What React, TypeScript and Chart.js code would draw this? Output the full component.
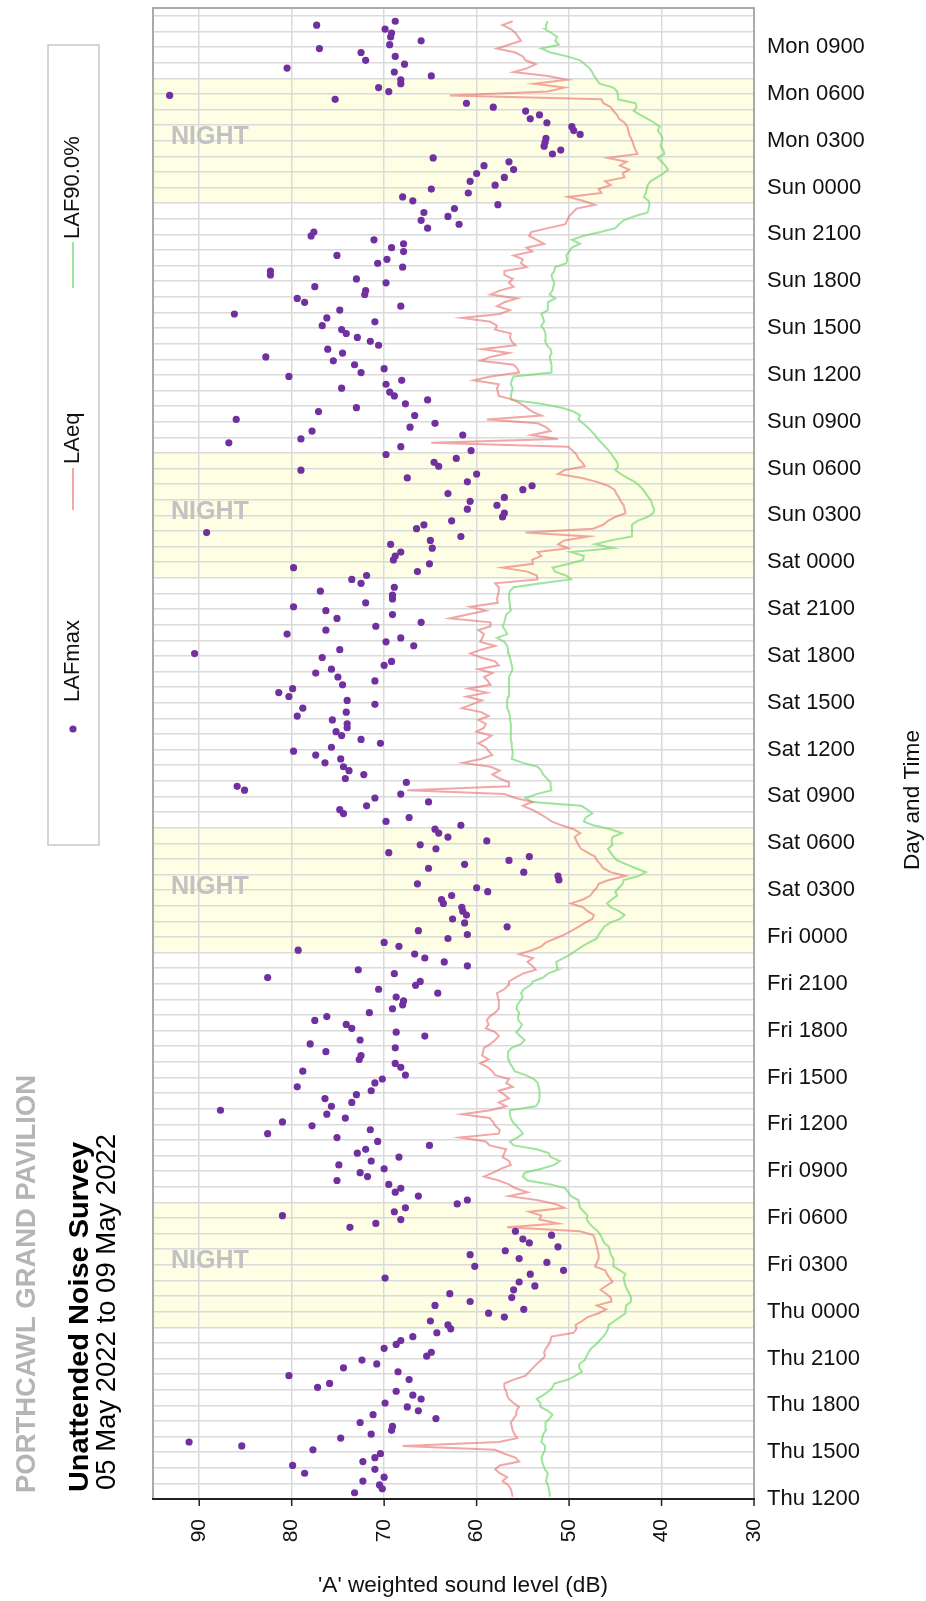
import React, { useEffect, useRef } from "react";
import { Chart, registerables } from "chart.js";

Chart.register(...registerables);

const FONT = "'Liberation Sans', Arial, Helvetica, sans-serif";

// Time axis: hours counted from Thu 12:00
const Y_MIN = 0;
const Y_MAX = 95.5;
const X_MIN = 30;
const X_MAX = 95;
const X_TICKS = [30, 40, 50, 60, 70, 80, 90];
const TIME_TICK_HOURS = [0, 3, 6, 9, 12, 15, 18, 21, 24, 27, 30, 33, 36, 39, 42, 45, 48, 51, 54, 57, 60, 63, 66, 69, 72, 75, 78, 81, 84, 87, 90, 93];
const TIME_LABELS = [
  "Thu 1200", "Thu 1500", "Thu 1800", "Thu 2100", "Thu 0000", "Fri 0300", "Fri 0600", "Fri 0900",
  "Fri 1200", "Fri 1500", "Fri 1800", "Fri 2100", "Fri 0000", "Sat 0300", "Sat 0600", "Sat 0900",
  "Sat 1200", "Sat 1500", "Sat 1800", "Sat 2100", "Sat 0000", "Sun 0300", "Sun 0600", "Sun 0900",
  "Sun 1200", "Sun 1500", "Sun 1800", "Sun 2100", "Sun 0000", "Mon 0300", "Mon 0600", "Mon 0900",
];
const NIGHT_BANDS = [[11, 19], [35, 43], [59, 67], [83, 91]];

// 15-minute samples, newest (Mon ~10:39) first
const LAST_SAMPLE_HOUR = 94.65;
const STEP_HOURS = 0.25;

const LAEQ_NEWEST_FIRST = [
  56.1, 57.2, 56.3, 55.8, 55.5, 55.2, 56.5, 57.8, 55.8, 55.0,
  54.7, 53.6, 54.5, 56.0, 52.3, 50.2, 53.8, 50.5, 52.3, 62.9,
  46.5, 46.3, 45.5, 45.2, 44.8, 44.6, 44.0, 43.7, 43.6, 43.5,
  43.3, 43.1, 43.0, 42.8, 42.6, 45.8, 43.8, 44.5, 43.5, 44.2,
  44.0, 46.1, 45.5, 46.8, 46.5, 50.1, 48.5, 47.2, 49.2, 49.6,
  50.0, 50.2, 50.4, 52.3, 54.1, 54.3, 53.5, 52.7, 54.6, 54.0,
  56.0, 55.0, 55.2, 54.6, 57.0, 57.0, 56.1, 56.5, 56.0, 57.5,
  58.5, 55.6, 57.0, 57.8, 56.4, 57.5, 61.6, 58.5, 57.8, 58.0,
  56.3, 56.4, 56.2, 55.8, 59.4, 56.5, 58.5, 59.6, 56.0, 55.6,
  55.4, 58.5, 60.3, 57.6, 57.8, 57.7, 57.6, 56.0, 55.2, 54.6,
  54.0, 53.0, 58.9, 53.4, 52.5, 52.0, 54.1, 51.2, 64.9, 50.1,
  49.6, 49.2, 49.0, 48.6, 48.3, 50.5, 51.2, 48.6, 47.0, 45.8,
  45.1, 44.9, 44.6, 44.4, 44.1, 44.0, 43.9, 45.0, 45.8, 46.3,
  47.4, 54.7, 47.9, 50.5, 51.2, 50.1, 53.4, 53.0, 54.0, 53.9,
  57.2, 54.5, 53.5, 53.4, 58.0, 57.6, 57.6, 57.7, 57.8, 57.7,
  60.7, 59.0, 61.0, 62.9, 58.5, 58.5, 59.8, 59.2, 59.4, 59.6,
  58.0, 59.5, 60.7, 59.5, 58.0, 57.6, 59.8, 58.3, 59.2, 58.8,
  58.5, 60.9, 58.9, 61.1, 59.4, 60.5, 61.6, 59.5, 58.7, 59.8,
  59.0, 59.2, 60.0, 58.4, 59.0, 59.8, 59.0, 58.7, 58.3, 59.5,
  61.5, 58.5, 57.5, 58.3, 57.5, 56.5, 56.5, 67.5, 57.0, 55.8,
  54.0, 55.0, 54.0, 53.2, 52.5, 51.9, 50.8, 49.5, 48.8, 49.4,
  49.2, 49.0, 48.7, 48.0, 47.2, 47.0, 46.6, 46.3, 45.5, 43.9,
  45.7, 46.8, 47.0, 47.4, 47.7, 48.5, 49.8, 48.5, 48.0, 47.3,
  47.5, 48.3, 49.0, 49.7, 50.5, 51.5, 52.5, 53.0, 54.0, 55.4,
  53.9, 54.5, 54.0, 53.6, 55.0, 55.8, 56.5, 56.6, 57.0, 57.8,
  57.7, 57.6, 57.6, 57.6, 58.0, 58.6, 58.9, 58.7, 59.0, 58.0,
  57.6, 58.0, 58.5, 59.2, 59.3, 59.4, 58.7, 59.6, 58.8, 58.3,
  58.0, 56.5, 56.8, 56.1, 57.6, 57.0, 56.5, 57.6, 56.8, 58.5,
  61.6, 58.6, 58.2, 58.0, 57.5, 57.6, 61.8, 59.0, 58.6, 56.8,
  57.0, 57.2, 56.5, 56.3, 57.4, 58.2, 59.2, 57.6, 56.5, 55.8,
  54.5, 56.5, 53.5, 51.5, 50.5, 54.3, 53.0, 53.2, 51.2, 56.7,
  48.8, 47.4, 47.2, 47.1, 47.0, 46.9, 46.8, 46.8, 47.0, 47.2,
  46.1, 45.9, 45.6, 45.3, 46.0, 46.6, 46.0, 45.5, 45.4, 47.0,
  46.0, 46.8, 48.0, 48.6, 49.3, 49.2, 49.5, 51.9, 52.0, 52.2,
  52.5, 52.7, 52.6, 53.0, 53.5, 53.9, 54.3, 54.7, 56.0, 57.0,
  57.0, 56.8, 56.7, 56.5, 56.0, 55.4, 55.7, 55.7, 56.0, 56.3,
  56.2, 56.1, 55.9, 55.6, 57.6, 68.0, 58.0, 57.0, 55.8, 55.4,
  57.5, 58.0, 57.5, 56.7, 57.2, 56.6, 56.3, 56.2, 56.1,
];

const LAF90_NEWEST_FIRST = [
  52.3, 52.5, 52.6, 51.9, 51.3, 51.5, 51.1, 53.0, 52.0, 50.2,
  48.8, 48.3, 47.8, 47.5, 47.3, 47.0, 46.7, 45.2, 44.8, 44.7,
  44.7, 42.8, 42.7, 43.0, 42.3, 41.5, 40.8, 40.2, 40.4, 40.1,
  39.9, 40.0, 40.1, 39.8, 39.7, 40.4, 40.0, 39.6, 39.3, 39.8,
  40.5, 41.2, 41.5, 41.6, 41.7, 41.9, 41.4, 41.3, 41.4, 41.5,
  43.0, 44.1, 44.6, 45.0, 46.6, 48.5, 49.7, 48.8, 49.7, 50.0,
  50.3, 50.2, 50.3, 51.5, 51.6, 51.9, 51.8, 51.6, 51.7, 51.8,
  52.1, 51.5, 52.3, 52.3, 52.3, 53.0, 52.8, 52.7, 53.0, 52.7,
  52.5, 52.6, 52.6, 52.4, 52.0, 51.9, 52.1, 52.0, 51.9, 51.9,
  51.9, 56.0, 56.2, 56.3, 56.1, 56.2, 56.3, 56.2, 53.0, 50.8,
  49.5, 48.8, 49.0, 48.5, 48.0, 47.6, 47.2, 46.9, 46.5, 46.1,
  45.7, 45.4, 45.1, 44.8, 44.7, 45.0, 44.4, 43.7, 42.9, 42.4,
  42.0, 41.7, 41.4, 41.1, 41.0, 40.8, 40.9, 41.5, 42.6, 43.2,
  43.2, 43.2, 43.2, 45.5, 47.2, 45.2, 49.8, 48.4, 48.5, 50.0,
  51.8, 51.5, 50.3, 49.8, 53.0, 56.0, 56.4, 56.5, 56.5, 56.4,
  56.4, 56.3, 56.8, 56.9, 57.0, 57.2, 56.9, 56.7, 57.8, 57.0,
  56.7, 56.6, 56.5, 56.4, 56.3, 56.2, 56.1, 56.3, 56.5, 56.5,
  56.5, 56.5, 56.5, 56.6, 56.7, 56.7, 56.7, 56.5, 56.4, 56.4,
  56.3, 56.3, 56.3, 56.3, 56.3, 56.2, 56.2, 56.1, 56.1, 56.2,
  55.0, 53.4, 53.0, 52.8, 52.4, 52.0, 52.0, 51.9, 53.5, 54.7,
  54.0, 48.7, 48.0, 47.5, 48.2, 48.4, 47.4, 45.5, 44.3, 45.3,
  45.4, 45.3, 45.8, 45.5, 45.2, 44.8, 43.8, 42.8, 41.7, 42.5,
  44.1, 44.2, 44.6, 45.0, 44.8, 45.4, 45.9, 45.5, 44.6, 44.0,
  44.5, 45.6, 46.2, 46.5, 46.8, 47.0, 47.8, 48.6, 49.2, 49.8,
  50.6, 51.4, 51.3, 51.2, 52.3, 52.8, 53.9, 54.2, 54.9, 55.2,
  55.0, 55.3, 55.6, 55.7, 55.4, 55.5, 55.5, 55.1, 55.3, 55.7,
  55.3, 54.8, 55.2, 56.2, 56.6, 56.6, 56.5, 56.4, 56.1, 55.9,
  54.7, 53.8, 53.4, 53.3, 53.2, 53.2, 53.2, 53.3, 53.6, 56.4,
  56.4, 56.3, 56.1, 55.7, 55.3, 55.0, 55.6, 56.4, 56.0, 53.5,
  52.2, 52.0, 51.0, 51.6, 53.0, 54.8, 55.0, 54.5, 52.0, 50.4,
  50.1, 49.8, 49.0, 48.9, 48.8, 48.4, 48.0, 48.1, 47.8, 47.4,
  46.9, 46.6, 46.4, 46.2, 45.7, 45.6, 45.5, 45.2, 45.2, 45.2,
  44.5, 43.9, 44.1, 44.0, 43.9, 43.7, 43.5, 43.3, 43.3, 43.8,
  43.9, 43.9, 44.5, 45.1, 45.7, 45.8, 46.0, 46.3, 46.7, 47.1,
  47.6, 47.9, 48.1, 48.3, 48.9, 48.9, 48.6, 49.3, 50.1, 51.6,
  51.8, 52.2, 52.8, 53.5, 53.1, 53.1, 52.3, 51.8, 52.1, 52.6,
  52.5, 52.5, 52.8, 52.9, 53.0, 52.6, 52.6, 52.8, 53.0, 52.9,
  52.8, 52.6, 52.3, 52.4, 52.5, 52.3, 52.2, 52.1, 52.1,
];

const LAFMAX_NEWEST_FIRST = [
  68.8, 77.3, 69.9, 69.2, 69.3, 66.0, 69.4, 77.0, 72.5, 68.8,
  72.0, 67.8, 80.5, 68.9, 64.9, 68.2, 68.2, 70.6, 69.5, 93.2,
  75.3, 61.1, 58.2, 54.7, 53.2, 54.2, 52.4, 49.7, 49.5, 48.8,
  52.5, 52.6, 52.7, 50.9, 51.8, 64.7, 56.5, 59.2, 56.0, 60.0,
  57.0, 60.7, 58.0, 64.9, 60.9, 68.0, 66.9, 57.7, 62.4, 65.7,
  63.1, 66.0, 61.9, 65.3, 77.6, 77.9, 71.1, 67.9, 69.2, 67.9,
  75.1, 69.7, 70.7, 68.0, 82.3, 82.3, 73.0, 69.8, 77.5, 72.0,
  72.1, 79.4, 78.6, 68.2, 74.8, 86.2, 76.2, 71.0, 76.7, 74.6,
  74.1, 72.9, 71.5, 70.6, 76.1, 74.5, 82.8, 75.5, 73.2, 70.0,
  72.5, 80.3, 68.1, 69.8, 74.6, 69.4, 68.9, 65.3, 67.7, 73.0,
  77.1, 66.7, 86.0, 64.5, 67.2, 77.8, 61.5, 79.0, 86.8, 68.2,
  60.6, 69.8, 62.2, 64.6, 64.1, 79.0, 60.0, 67.5, 61.0, 54.0,
  55.0, 63.1, 57.0, 60.7, 57.8, 61.0, 57.0, 57.2, 62.7, 65.7,
  66.5, 89.2, 61.7, 65.0, 69.3, 64.8, 68.2, 68.8, 69.0, 65.1,
  79.8, 66.4, 71.9, 73.5, 72.5, 68.9, 76.9, 69.1, 69.1, 72.0,
  79.8, 76.3, 69.1, 75.1, 66.0, 70.9, 76.3, 80.5, 68.2, 69.8,
  66.8, 74.8, 90.5, 76.7, 69.2, 70.0, 75.7, 77.4, 75.0, 71.0,
  74.5, 79.9, 81.4, 80.3, 74.0, 71.0, 78.8, 74.1, 79.4, 75.6,
  74.0, 74.0, 75.2, 74.6, 72.5, 70.4, 75.7, 79.8, 77.4, 74.7,
  76.4, 74.4, 73.8, 72.2, 74.2, 67.6, 85.9, 85.1, 68.2, 71.0,
  65.2, 71.9, 74.8, 74.4, 67.3, 69.8, 61.7, 64.5, 64.1, 63.1,
  58.9, 66.1, 64.4, 69.5, 54.3, 56.5, 61.3, 65.2, 54.9, 51.2,
  51.1, 66.4, 60.0, 58.8, 62.7, 63.8, 63.6, 61.6, 61.5, 61.1,
  62.6, 61.3, 56.7, 66.3, 61.0, 63.1, 70.0, 68.4, 79.3, 66.7,
  65.6, 63.5, 61.0, 72.8, 68.9, 82.6, 66.1, 66.6, 70.6, 64.2,
  68.7, 67.9, 68.0, 69.1, 71.6, 76.2, 77.5, 74.1, 73.5, 68.7,
  65.6, 72.6, 78.0, 68.8, 76.3, 72.5, 72.7, 68.8, 68.2, 78.8,
  67.7, 70.2, 71.0, 79.4, 71.4, 73.0, 76.4, 73.5, 75.7, 87.7,
  76.2, 74.2, 81.0, 77.8, 71.5, 82.6, 75.1, 70.7, 65.1, 72.0,
  72.9, 68.4, 71.4, 74.9, 70.0, 72.6, 71.8, 75.1, 69.5, 68.2,
  68.8, 66.3, 61.0, 62.1, 67.7, 68.9, 81.0, 68.2, 70.9, 73.7,
  55.8, 51.9, 55.0, 54.3, 51.2, 56.9, 60.7, 55.4, 52.4, 60.2,
  50.6, 54.2, 69.9, 55.4, 53.7, 56.0, 62.9, 56.2, 60.7, 64.5,
  54.9, 58.7, 57.0, 65.0, 63.1, 62.8, 64.3, 66.9, 68.2, 68.7,
  70.0, 64.9, 65.4, 72.4, 70.8, 74.4, 68.5, 80.3, 67.3, 75.9,
  77.2, 68.7, 66.9, 66.0, 69.9, 67.5, 66.3, 71.2, 64.4, 72.6,
  69.1, 69.2, 71.4, 74.7, 91.1, 85.4, 77.7, 70.4, 71.0, 72.3,
  79.9, 71.0, 78.6, 70.0, 72.3, 70.5, 70.2, 73.2,
];

const SERIES_NAMES = ["LAFmax", "LAeq", "LAF90.0%"];
const TITLE_SITE = "PORTHCAWL GRAND PAVILION";
const TITLE_MAIN = "Unattended Noise Survey";
const TITLE_DATES = "05 May 2022 to 09 May 2022";
const X_TITLE = "'A' weighted sound level (dB)";
const Y_TITLE = "Day and Time";
const NIGHT_LABEL = "NIGHT";

const COLOR_MAX = "#7030a0";
const COLOR_EQ = "rgba(236,112,112,0.62)";
const COLOR_90 = "rgba(110,215,110,0.68)";

function toPoints(values: number[]) {
  return values
    .map((v, j) => ({ x: v, y: LAST_SAMPLE_HOUR - STEP_HOURS * j }))
    .reverse();
}

function drawText(
  ctx: CanvasRenderingContext2D,
  text: string,
  x: number,
  y: number,
  o: { font: string; color: string; align: CanvasTextAlign; baseline: CanvasTextBaseline; rotate?: boolean; width?: number }
) {
  ctx.save();
  ctx.font = o.font;
  ctx.fillStyle = o.color;
  ctx.textAlign = o.align;
  ctx.textBaseline = o.baseline;
  ctx.translate(x, y);
  if (o.rotate) ctx.rotate(-Math.PI / 2);
  if (o.width) {
    const w = ctx.measureText(text).width;
    if (w > 0) ctx.scale(o.width / w, 1);
  }
  ctx.fillText(text, 0, 0);
  ctx.restore();
}

const bandsPlugin = {
  id: "nightBands",
  beforeDraw(chart: any) {
    const { ctx, chartArea, scales } = chart;
    const y = scales.y;
    ctx.save();
    ctx.fillStyle = "#fefee4";
    NIGHT_BANDS.forEach(([a, b]) => {
      const y1 = y.getPixelForValue(b);
      const y2 = y.getPixelForValue(a);
      ctx.fillRect(chartArea.left, y1, chartArea.right - chartArea.left, y2 - y1);
    });
    ctx.restore();
  },
  beforeDatasetsDraw(chart: any) {
    const { ctx, chartArea, scales } = chart;
    const y = scales.y;
    NIGHT_BANDS.forEach(([a, b]) => {
      const yc = (y.getPixelForValue(a) + y.getPixelForValue(b)) / 2 - 3.5;
      drawText(ctx, NIGHT_LABEL, chartArea.left + 18, yc, {
        font: `bold 25px ${FONT}`, color: "#c2c2c2", align: "left", baseline: "middle",
      });
    });
  },
};

const decorPlugin = {
  id: "decor",
  afterDraw(chart: any) {
    const { ctx, chartArea, scales } = chart;
    const { left, right, top, bottom } = chartArea;
    const xs = scales.x;
    const ys = scales.y;

    // frame
    ctx.save();
    ctx.strokeStyle = "#aaaaaa";
    ctx.lineWidth = 2;
    ctx.beginPath();
    ctx.moveTo(left, bottom);
    ctx.lineTo(left, top);
    ctx.lineTo(right, top);
    ctx.lineTo(right, bottom);
    ctx.stroke();
    ctx.strokeStyle = "#222";
    ctx.beginPath();
    ctx.moveTo(left - 1, bottom);
    ctx.lineTo(right + 1, bottom);
    ctx.stroke();
    // x tick marks
    ctx.lineWidth = 1.5;
    X_TICKS.forEach((v) => {
      const px = xs.getPixelForValue(v);
      ctx.beginPath();
      ctx.moveTo(px, bottom);
      ctx.lineTo(px, bottom + 7);
      ctx.stroke();
    });
    ctx.restore();

    // x tick labels (rotated)
    X_TICKS.forEach((v) => {
      drawText(ctx, String(v), xs.getPixelForValue(v), bottom + 20, {
        font: `21px ${FONT}`, color: "#111", align: "right", baseline: "middle", rotate: true,
      });
    });
    // y tick labels
    TIME_TICK_HOURS.forEach((h, i) => {
      drawText(ctx, TIME_LABELS[i], right + 13, ys.getPixelForValue(h), {
        font: `22px ${FONT}`, color: "#111", align: "left", baseline: "middle",
      });
    });
    // axis titles
    drawText(ctx, X_TITLE, 463, 1586, {
      font: `22px ${FONT}`, color: "#111", align: "center", baseline: "middle", width: 290,
    });
    drawText(ctx, Y_TITLE, 913, 800, {
      font: `22px ${FONT}`, color: "#111", align: "center", baseline: "middle", rotate: true, width: 140,
    });

    // titles (rotated, start at bottom; baseline on the right side)
    drawText(ctx, TITLE_SITE, 35, 1493, {
      font: `bold 28px ${FONT}`, color: "#b5b5b5", align: "left", baseline: "alphabetic", rotate: true, width: 418,
    });
    drawText(ctx, TITLE_MAIN, 88, 1492, {
      font: `bold 28px ${FONT}`, color: "#000", align: "left", baseline: "alphabetic", rotate: true, width: 350,
    });
    drawText(ctx, TITLE_DATES, 115, 1490, {
      font: `27px ${FONT}`, color: "#000", align: "left", baseline: "alphabetic", rotate: true, width: 356,
    });

    // legend box
    ctx.save();
    ctx.strokeStyle = "#c8c8c8";
    ctx.lineWidth = 1.5;
    ctx.strokeRect(48, 45, 51, 800);
    ctx.fillStyle = COLOR_MAX;
    ctx.beginPath();
    ctx.arc(73, 729, 3.6, 0, Math.PI * 2);
    ctx.fill();
    ctx.lineWidth = 2;
    ctx.strokeStyle = COLOR_EQ;
    ctx.beginPath();
    ctx.moveTo(73, 510);
    ctx.lineTo(73, 468);
    ctx.stroke();
    ctx.strokeStyle = COLOR_90;
    ctx.beginPath();
    ctx.moveTo(73, 288);
    ctx.lineTo(73, 242);
    ctx.stroke();
    ctx.restore();
    const legendStarts = [702, 464, 239];
    SERIES_NAMES.forEach((name, i) => {
      drawText(ctx, name, 73, legendStarts[i], {
        font: `22px ${FONT}`, color: "#111", align: "left", baseline: "middle", rotate: true,
      });
    });
  },
};

export default function App() {
  const ref = useRef<HTMLCanvasElement | null>(null);

  useEffect(() => {
    if (!ref.current) return;
    const chart = new Chart(ref.current, {
      type: "scatter",
      data: {
        datasets: [
          {
            label: SERIES_NAMES[0],
            data: toPoints(LAFMAX_NEWEST_FIRST),
            showLine: false,
            pointRadius: 3.6,
            pointBackgroundColor: COLOR_MAX,
            pointBorderWidth: 0,
            order: 0,
          },
          {
            label: SERIES_NAMES[1],
            data: toPoints(LAEQ_NEWEST_FIRST),
            showLine: true,
            borderColor: COLOR_EQ,
            borderWidth: 2,
            pointRadius: 0,
            order: 1,
          },
          {
            label: SERIES_NAMES[2],
            data: toPoints(LAF90_NEWEST_FIRST),
            showLine: true,
            borderColor: COLOR_90,
            borderWidth: 2,
            pointRadius: 0,
            order: 2,
          },
        ],
      } as any,
      options: {
        responsive: false,
        maintainAspectRatio: false,
        animation: false,
        devicePixelRatio: 1,
        events: [],
        layout: { padding: { left: 153, right: 172, top: 8, bottom: 102 } },
        plugins: { legend: { display: false }, tooltip: { enabled: false } },
        scales: {
          x: {
            type: "linear",
            reverse: true,
            min: X_MIN,
            max: X_MAX,
            position: "bottom",
            ticks: { display: false, stepSize: 10, includeBounds: false },
            grid: { color: "#dadada", lineWidth: 1.5, drawTicks: false },
            border: { display: false },
            afterFit: (s: any) => { s.height = 0; },
          },
          y: {
            type: "linear",
            min: Y_MIN,
            max: Y_MAX,
            position: "right",
            ticks: { display: false, stepSize: 1, autoSkip: false, includeBounds: false },
            grid: { color: "#dadada", lineWidth: 1.5, drawTicks: false },
            border: { display: false },
            afterFit: (s: any) => { s.width = 0; },
          },
        },
      } as any,
      plugins: [bandsPlugin, decorPlugin],
    });
    return () => chart.destroy();
  }, []);

  return (
    <div style={{ position: "absolute", left: 0, top: 0, width: 926, height: 1601, background: "#fff" }}>
      <canvas ref={ref} width={926} height={1601} style={{ width: 926, height: 1601, display: "block" }} />
    </div>
  );
}
